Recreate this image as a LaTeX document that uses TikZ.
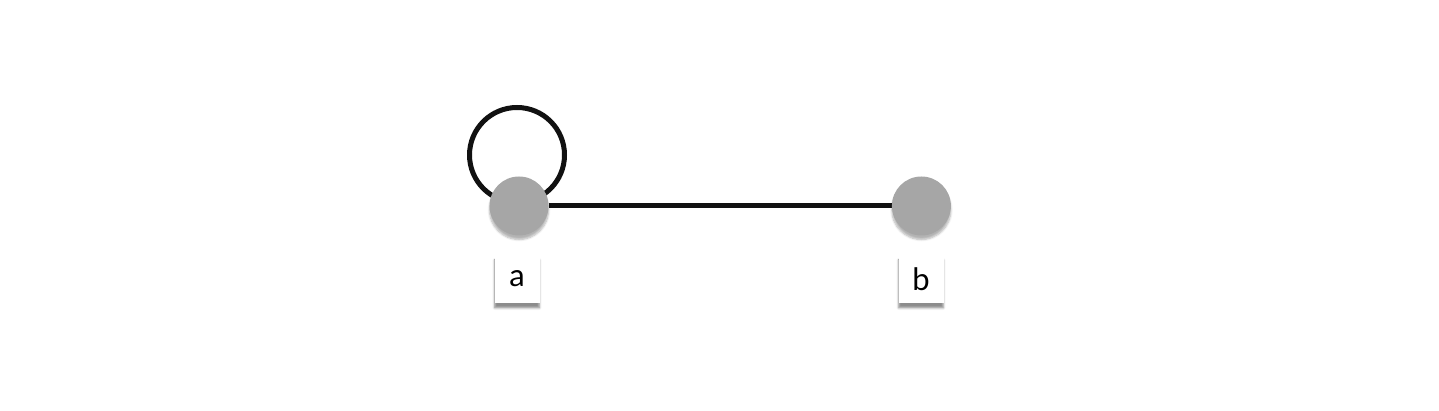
\documentclass[tikz,border=0pt]{standalone}
\usepackage{fontspec}
\setmainfont{Lato}
\usetikzlibrary{positioning,shadows.blur,backgrounds}

\definecolor{vertexgray}{HTML}{A6A6A6}
\definecolor{edgeblack}{HTML}{111111}

\begin{document}
\begin{tikzpicture}[x=1pt,y=1pt,
    vertex/.style={circle,fill=vertexgray,minimum size=59pt,inner sep=0pt,
        blur shadow={shadow xshift=0pt,shadow yshift=-4pt,shadow blur steps=6,shadow opacity=30}},
    tag/.style={rectangle,fill=white,minimum width=45pt,minimum height=48pt,inner sep=0pt,
        font=\fontsize{31}{34}\selectfont,
        blur shadow={shadow xshift=0pt,shadow yshift=-5pt,shadow blur steps=5,shadow opacity=45}},
    link/.style={draw=edgeblack,line width=5pt}]
    \useasboundingbox (0,0) rectangle (1439,411);

    \node[vertex] (a) at (519,205) {};
    \node[vertex] (b) [right=343pt of a] {};
    \node[tag] (la) at (517,132) {a};
    \node[tag] (lb) at (921,132) {b};

    \begin{scope}[on background layer]
        \draw[link] (a) -- (b);
        \draw[link] ([xshift=-2pt,yshift=51pt]a.center) circle (47.5);
    \end{scope}
\end{tikzpicture}
\end{document}
